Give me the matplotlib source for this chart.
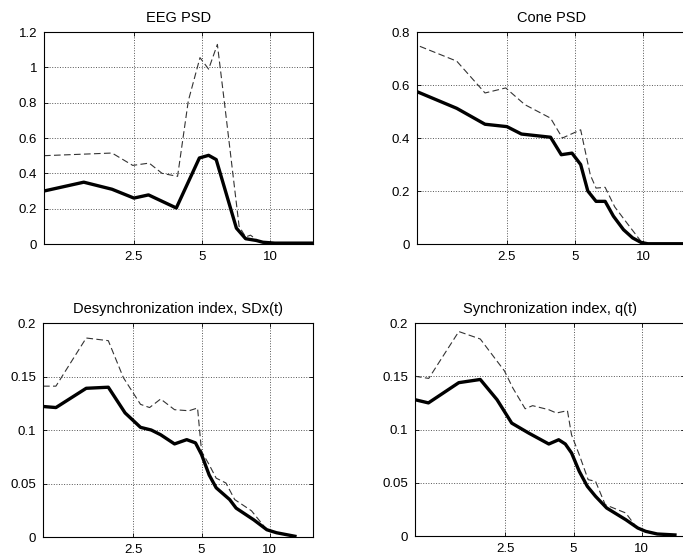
import matplotlib
matplotlib.use('Agg')

import matplotlib.pyplot as plt
from matplotlib.ticker import NullLocator

plt.rcParams['font.family'] = ['Liberation Sans', 'DejaVu Sans']
plt.rcParams['font.size'] = 9

# frequency (log axis) and values
eeg_f_solid = [1.0, 1.5, 2.0, 2.5, 2.9, 3.85, 4.87, 5.35, 5.78, 7.1, 7.8, 8.7, 9.3, 10.5, 15.5]
eeg_solid = [0.30, 0.35, 0.31, 0.26, 0.278, 0.204, 0.487, 0.502, 0.478, 0.09, 0.03, 0.02, 0.01, 0.005, 0.005]
eeg_f_dash = [1.0, 2.0, 2.47, 2.92, 3.33, 3.9, 4.35, 4.9, 5.35, 5.85, 6.3, 7.3, 7.8, 8.2, 8.8, 9.5, 15.5]
eeg_dash = [0.50, 0.515, 0.445, 0.458, 0.40, 0.383, 0.81, 1.055, 0.99, 1.13, 0.79, 0.10, 0.04, 0.05, 0.02, 0.006, 0.005]

cone_f_solid = [1.0, 1.5, 2.0, 2.5, 2.9, 3.9, 4.35, 4.85, 5.3, 5.7, 6.2, 6.8, 7.4, 8.2, 9.0, 9.8, 10.5, 15.5]
cone_solid = [0.575, 0.512, 0.452, 0.443, 0.415, 0.403, 0.337, 0.343, 0.30, 0.20, 0.161, 0.161, 0.105, 0.054, 0.023, 0.006, 0.001, 0.001]
cone_f_dash = [1.03, 1.5, 2.0, 2.47, 3.0, 3.9, 4.4, 5.3, 5.85, 6.2, 6.8, 7.5, 8.6, 9.8, 10.5, 15.5]
cone_dash = [0.746, 0.69, 0.57, 0.589, 0.526, 0.475, 0.40, 0.431, 0.26, 0.211, 0.214, 0.14, 0.073, 0.01, 0.001, 0.001]

sdx_f_solid = [1.0, 1.14, 1.55, 1.94, 2.3, 2.69, 3.0, 3.3, 3.8, 4.3, 4.7, 5.0, 5.4, 5.8, 6.65, 7.1, 8.5, 9.7, 10.7, 12.9]
sdx_solid = [0.122, 0.121, 0.139, 0.140, 0.116, 0.1025, 0.100, 0.0956, 0.087, 0.091, 0.088, 0.077, 0.058, 0.046, 0.035, 0.027, 0.016, 0.0068, 0.004, 0.0007]
sdx_f_dash = [1.0, 1.14, 1.55, 1.94, 2.26, 2.69, 2.95, 3.3, 3.8, 4.4, 4.8, 5.0, 5.4, 5.8, 6.4, 7.0, 8.3, 9.7, 10.7, 12.9]
sdx_dash = [0.141, 0.141, 0.186, 0.1835, 0.149, 0.124, 0.121, 0.129, 0.119, 0.118, 0.1206, 0.080, 0.0676, 0.055, 0.0505, 0.035, 0.0245, 0.0068, 0.004, 0.0007]

q_f_solid = [1.0, 1.146, 1.56, 1.94, 2.3, 2.67, 3.17, 3.89, 4.3, 4.6, 4.9, 5.3, 5.75, 6.25, 7.0, 8.5, 9.6, 10.4, 11.7, 14.0]
q_solid = [0.128, 0.125, 0.144, 0.147, 0.128, 0.106, 0.0967, 0.0864, 0.0904, 0.0864, 0.078, 0.0607, 0.0467, 0.0373, 0.0263, 0.0153, 0.0075, 0.0044, 0.0019, 0.001]
q_f_dash = [1.0, 1.15, 1.56, 1.94, 2.48, 2.7, 3.06, 3.3, 3.89, 4.2, 4.7, 4.9, 5.3, 5.8, 6.25, 6.9, 8.5, 9.4, 10.4, 11.7, 14.0]
q_dash = [0.150, 0.148, 0.192, 0.185, 0.155, 0.139, 0.1195, 0.1224, 0.1186, 0.1155, 0.1177, 0.095, 0.0763, 0.0529, 0.0514, 0.0294, 0.0216, 0.0091, 0.0044, 0.0019, 0.001]

x_ticks = [2.5, 5, 10]
x_labels = ['2.5', '5', '10']

panels = [
    ('EEG PSD', eeg_f_solid, eeg_solid, eeg_f_dash, eeg_dash,
     [0, 0.2, 0.4, 0.6, 0.8, 1.0, 1.2], ['0', '0.2', '0.4', '0.6', '0.8', '1', '1.2'],
     [0.0644, 0.5627, 0.3939, 0.3799]),
    ('Cone PSD', cone_f_solid, cone_solid, cone_f_dash, cone_dash,
     [0, 0.2, 0.4, 0.6, 0.8], ['0', '0.2', '0.4', '0.6', '0.8'],
     [0.6105, 0.5627, 0.3939, 0.3799]),
    ('Desynchronization index, SDx(t)', sdx_f_solid, sdx_solid, sdx_f_dash, sdx_dash,
     [0, 0.05, 0.1, 0.15, 0.2], ['0', '0.05', '0.1', '0.15', '0.2'],
     [0.063, 0.0376, 0.3953, 0.3835]),
    ('Synchronization index, q(t)', q_f_solid, q_solid, q_f_dash, q_dash,
     [0, 0.05, 0.1, 0.15, 0.2], ['0', '0.05', '0.1', '0.15', '0.2'],
     [0.6076, 0.0394, 0.3953, 0.3817]),
]

fig = plt.figure(figsize=(6.83, 5.58), dpi=100)

for title, fs, ys, fd, yd, yt, yl, pos in panels:
    ax = fig.add_axes(pos)
    ax.plot(fd, yd, color='#333333', linewidth=0.8, dashes=(6, 3))
    ax.plot(fs, ys, color='black', linewidth=2.4, solid_joinstyle='round')
    ax.set_xscale('log')
    ax.set_xlim(1, 15.5)
    ax.set_ylim(yt[0], yt[-1])
    ax.set_xticks(x_ticks)
    ax.set_xticklabels(x_labels)
    ax.xaxis.set_minor_locator(NullLocator())
    ax.set_yticks(yt)
    ax.set_yticklabels(yl)
    ax.grid(True, linestyle=':', linewidth=0.7, color='#555555')
    ax.tick_params(direction='in', length=3, width=0.6, top=True, right=True,
                   labelsize=9.5, pad=5)
    for s in ax.spines.values():
        s.set_linewidth(0.8)
    ax.set_title(title, fontsize=10.5, pad=7)

plt.savefig('out.png', dpi=100)
